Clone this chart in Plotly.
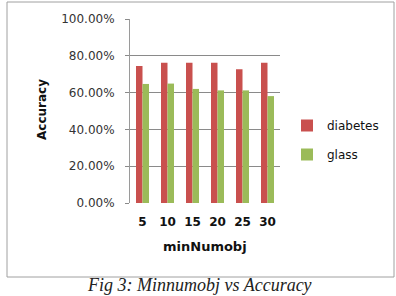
import plotly.graph_objects as go

categories = ["5", "10", "15", "20", "25", "30"]
diabetes = [0.745, 0.762, 0.762, 0.762, 0.727, 0.762]
glass = [0.647, 0.649, 0.620, 0.612, 0.612, 0.581]
ytickvals = [0, 0.2, 0.4, 0.6, 0.8, 1.0]

fig = go.Figure()
fig.add_trace(go.Bar(x=categories, y=diabetes, name="diabetes",
                     marker=dict(color="#C9504E", line=dict(width=0)), legendgroup="a"))
fig.add_trace(go.Bar(x=categories, y=glass, name="glass",
                     marker=dict(color="#9BBB59", line=dict(width=0)), legendgroup="b"))

L, R, T, B = 130, 280, 19, 203
W, H = 396, 296
def px(x): return (x - L) / (R - L)
def py(y): return (B - y) / (B - T)

fig.update_layout(
    width=W, height=H,
    margin=dict(l=L, r=W - R, t=T, b=H - B),
    paper_bgcolor="white", plot_bgcolor="white",
    barmode="group", bargap=0.48, bargroupgap=0,
    font=dict(family="DejaVu Sans", color="#222"),
    showlegend=True,
    legend=dict(x=px(287), y=py(140), xanchor="left", yanchor="middle",
                font=dict(size=12, color="#111"), tracegroupgap=10,
                itemwidth=30, bgcolor="rgba(0,0,0,0)"),
    xaxis=dict(showgrid=False, showline=False, ticks="",
               tickvals=categories, ticktext=["<b>%s</b>" % c for c in categories],
               tickfont=dict(size=12, color="#111"),
               ticklabelstandoff=10, zeroline=False),
    yaxis=dict(range=[0, 1.0], tickvals=ytickvals, tickformat=".2%",
               showgrid=True, gridcolor="#8a8a8a", gridwidth=1,
               showline=True, linecolor="#9a9a9a", linewidth=1,
               ticks="outside", ticklen=4, tickcolor="#8a8a8a",
               tickfont=dict(size=12, color="#333"), ticklabelstandoff=8,
               zeroline=False),
    shapes=[dict(type="rect", xref="paper", yref="paper",
                 x0=px(7), x1=px(394), y0=py(277), y1=py(2),
                 line=dict(color="#a0a0a0", width=1), layer="below")],
    annotations=[
        dict(text="<b>Accuracy</b>", xref="paper", yref="paper", x=px(42), y=py(110),
             textangle=-90, showarrow=False, font=dict(size=12, color="#111"),
             xanchor="center", yanchor="middle"),
        dict(text="<b>minNumobj</b>", xref="paper", yref="paper", x=px(205), y=py(246),
             showarrow=False, font=dict(size=13, color="#111"),
             xanchor="center", yanchor="middle"),
        dict(text="<i>Fig 3: Minnumobj vs Accuracy</i>", xref="paper", yref="paper",
             x=px(199), y=py(296), showarrow=False,
             font=dict(size=18, family="Liberation Serif, Times New Roman", color="#222"),
             xanchor="center", yanchor="bottom", borderpad=0),
    ],
)
fig.write_html("out.html")
